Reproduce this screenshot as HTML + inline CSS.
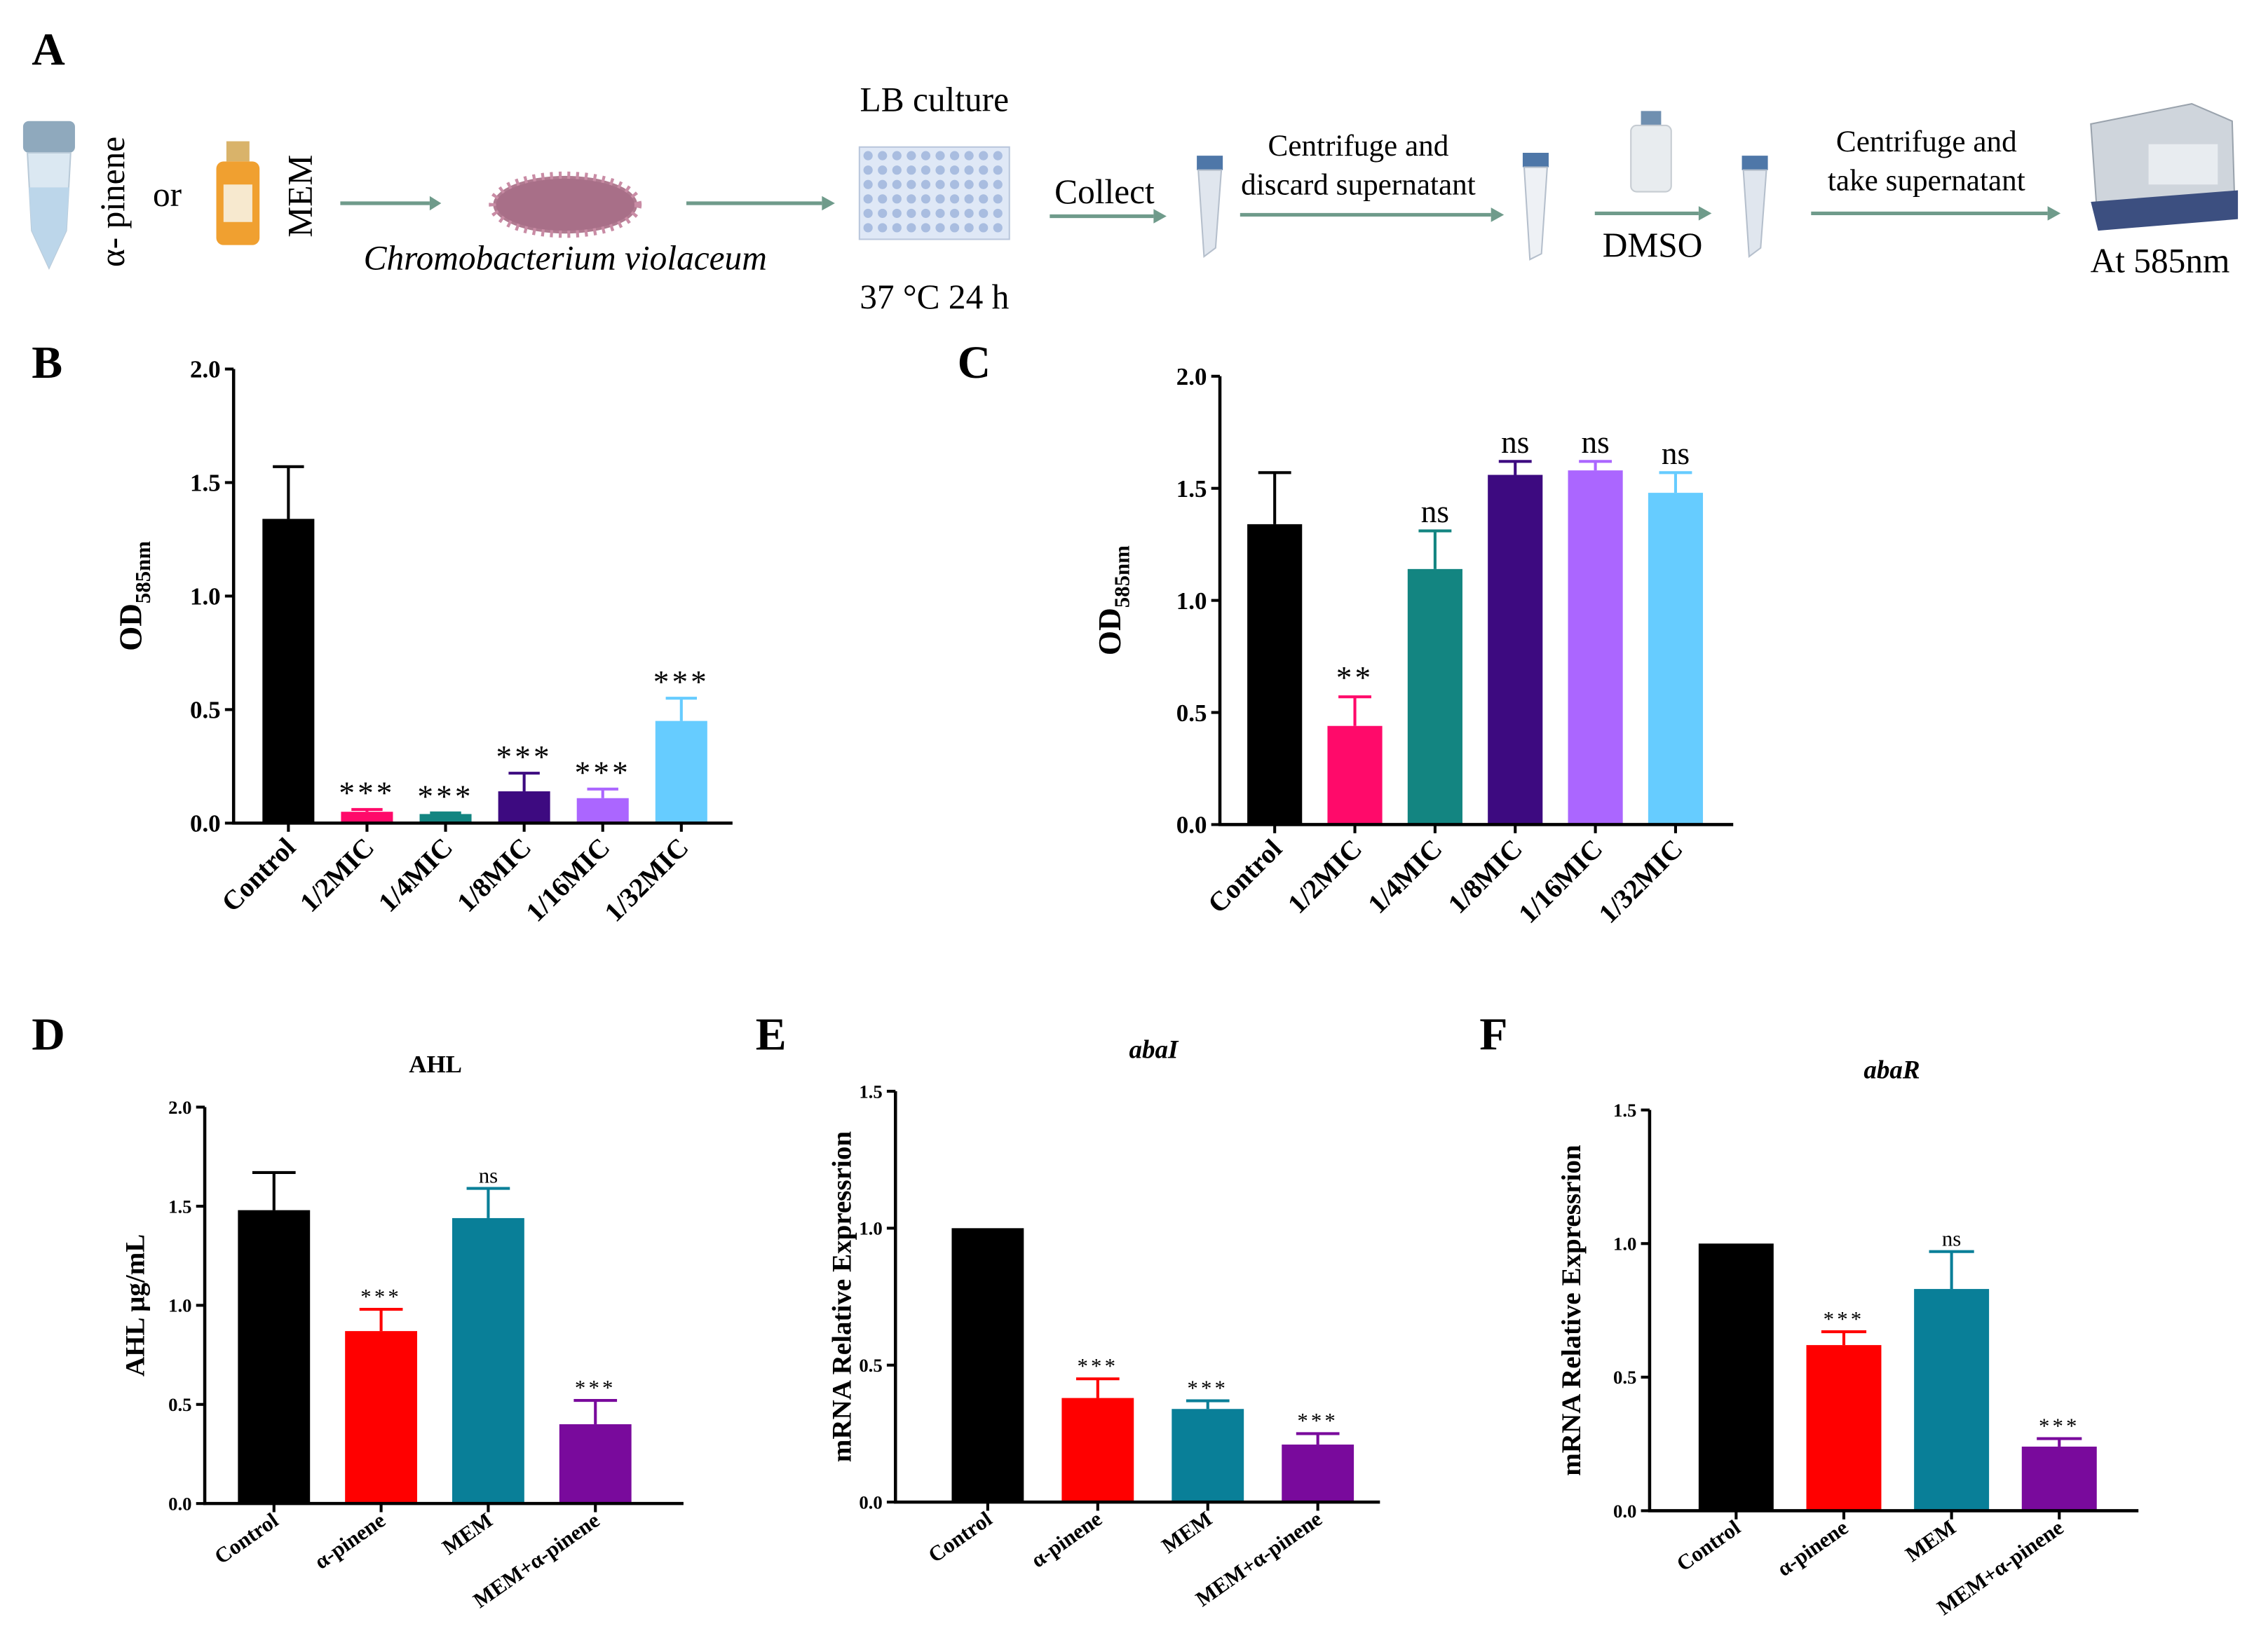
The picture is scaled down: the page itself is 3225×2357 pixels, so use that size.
<!DOCTYPE html>
<html><head><meta charset="utf-8">
<style>
html,body{margin:0;padding:0;background:#fff;}
svg{display:block;}
text{font-family:"Liberation Serif",serif;fill:#000;}
</style></head>
<body>
<svg id="fig" width="3225" height="2357" viewBox="0 0 1568 1146" preserveAspectRatio="none" xmlns="http://www.w3.org/2000/svg">
<rect width="1568" height="1146" fill="#fff"/>
<g>
<text x="22" y="45" font-size="32" font-weight="bold">A</text>
<g>
<rect x="16" y="84" width="36" height="22" rx="4" fill="#8fa9bd"/>
<path d="M19 106 L49 106 L46 160 L34 186 L22 160 Z" fill="#dbe8f2" stroke="#b9cad8"/>
<path d="M20 130 L48 130 L46 160 L34 186 L22 160 Z" fill="#bcd6ea"/>
</g>
<text transform="translate(86,140) rotate(-90)" font-size="24" text-anchor="middle">α- pinene</text>
<text x="106" y="143" font-size="24">or</text>
<g>
<rect x="157" y="98" width="16" height="14" fill="#d9b36a"/>
<rect x="150" y="112" width="30" height="58" rx="5" fill="#f0a030"/>
<rect x="155" y="128" width="20" height="26" fill="#f7e9cf"/>
</g>
<text transform="translate(216,136) rotate(-90)" font-size="24" text-anchor="middle">MEM</text>
<line x1="236" y1="141" x2="298" y2="141" stroke="#6f9b8b" stroke-width="2.5"/>
<path d="M298 136 L306 141 L298 146 Z" fill="#6f9b8b"/>
<g>
<ellipse cx="392" cy="142" rx="50" ry="20" fill="#b07a90" stroke="#c98ca5" stroke-width="6" stroke-dasharray="2 4"/>
<ellipse cx="392" cy="142" rx="48" ry="18" fill="#a86f88"/>
</g>
<text x="392" y="187" font-size="24" font-style="italic" text-anchor="middle">Chromobacterium violaceum</text>
<line x1="476" y1="141" x2="570" y2="141" stroke="#6f9b8b" stroke-width="2.5"/>
<path d="M570 136 L579 141 L570 146 Z" fill="#6f9b8b"/>
<text x="648" y="77" font-size="24" text-anchor="middle">LB culture</text>
<rect x="596" y="102" width="104" height="64" fill="#dfe8f6" stroke="#b9c6dc"/>
<g id="wells"></g>
<text x="648" y="214" font-size="24" text-anchor="middle">37 °C 24 h</text>
<text x="766" y="141" font-size="24" text-anchor="middle">Collect</text>
<line x1="728" y1="150" x2="800" y2="150" stroke="#6f9b8b" stroke-width="2.5"/>
<path d="M800 145 L809 150 L800 155 Z" fill="#6f9b8b"/>
<g><rect x="830" y="108" width="18" height="10" fill="#4e77a8"/><path d="M831 118 L847 118 L843 172 L835 178 Z" fill="#e0e6ee" stroke="#b5bfcc"/></g>
<text x="942" y="108" font-size="21" text-anchor="middle">Centrifuge and</text>
<text x="942" y="135" font-size="21" text-anchor="middle">discard supernatant</text>
<line x1="860" y1="149" x2="1034" y2="149" stroke="#6f9b8b" stroke-width="2.5"/>
<path d="M1034 144 L1043 149 L1034 154 Z" fill="#6f9b8b"/>
<g><rect x="1056" y="106" width="18" height="10" fill="#4e77a8"/><path d="M1057 116 L1073 116 L1069 176 L1061 180 Z" fill="#eef1f5" stroke="#b5bfcc"/></g>
<g><rect x="1138" y="77" width="14" height="10" fill="#6f8fb0"/><rect x="1131" y="87" width="28" height="46" rx="4" fill="#e8ecef" stroke="#c6ccd2"/></g>
<line x1="1106" y1="148" x2="1178" y2="148" stroke="#6f9b8b" stroke-width="2.5"/>
<path d="M1178 143 L1187 148 L1178 153 Z" fill="#6f9b8b"/>
<text x="1146" y="178" font-size="24" text-anchor="middle">DMSO</text>
<g><rect x="1208" y="108" width="18" height="10" fill="#4e77a8"/><path d="M1209 118 L1225 118 L1221 172 L1213 178 Z" fill="#e0e6ee" stroke="#b5bfcc"/></g>
<text x="1336" y="105" font-size="21" text-anchor="middle">Centrifuge and</text>
<text x="1336" y="132" font-size="21" text-anchor="middle">take supernatant</text>
<line x1="1256" y1="148" x2="1420" y2="148" stroke="#6f9b8b" stroke-width="2.5"/>
<path d="M1420 143 L1429 148 L1420 153 Z" fill="#6f9b8b"/>
<g>
<path d="M1450 86 L1520 72 L1548 84 L1550 150 L1455 158 Z" fill="#cfd5dc" stroke="#9aa3ad"/>
<path d="M1450 140 L1552 132 L1552 152 L1455 160 Z" fill="#3c4f80"/>
<rect x="1490" y="100" width="48" height="28" fill="#e8ecf0"/>
</g>
<text x="1498" y="189" font-size="24" text-anchor="middle">At 585nm</text>
</g>
<g id="charts"></g>
</svg>
<script>
const NS="http://www.w3.org/2000/svg";
const catBC=["Control","1/2MIC","1/4MIC","1/8MIC","1/16MIC","1/32MIC"];
const valB=[1.34,0.05,0.04,0.14,0.11,0.45];
const errB=[0.23,0.01,0.005,0.08,0.04,0.10];
const sigB=["","***","***","***","***","***"];
const valC=[1.34,0.44,1.14,1.56,1.58,1.48];
const errC=[0.23,0.13,0.17,0.06,0.04,0.09];
const sigC=["","**","ns","ns","ns","ns"];
const ticksBC=["0.0","0.5","1.0","1.5","2.0"];
const catDEF=["Control","α-pinene","MEM","MEM+α-pinene"];
const valD=[1.48,0.87,1.44,0.40];
const errD=[0.19,0.11,0.15,0.12];
const sigD=["","***","ns","***"];
const ticksD=["0.0","0.5","1.0","1.5","2.0"];
const valE=[1.0,0.38,0.34,0.21];
const errE=[0,0.07,0.03,0.04];
const sigE=["","***","***","***"];
const valF=[1.0,0.62,0.83,0.24];
const errF=[0,0.05,0.14,0.03];
const sigF=["","***","ns","***"];
const ticksEF=["0.0","0.5","1.0","1.5"];

const colBC=["#000000","#ff0a6a","#138581","#3d0a80","#ab66ff","#66ccff"];
const colDEF=["#000000","#ff0000","#097f98","#790a9c"];

function el(tag,attrs,parent){const e=document.createElementNS(NS,tag);for(const k in attrs)e.setAttribute(k,attrs[k]);parent.appendChild(e);return e;}

const wg=document.getElementById('wells');
for(let r=0;r<6;r++)for(let c=0;c<10;c++){el('circle',{cx:602+c*10,cy:108+r*10,r:3.2,fill:'#a9bde0'},wg);}

function chart(o){
  const g=el('g',{},document.getElementById('charts'));
  
  
  const ymax=parseFloat(o.ticks[o.ticks.length-1]);
  const Y=v=>o.y0-(v/ymax)*(o.y0-o.yTop);
  const X=i=>o.x0+o.first+i*o.step;
  const pl=el('text',{x:o.plx,y:o.ply,'font-size':32,'font-weight':'bold'},g);pl.textContent=o.pl;
  
  
  if(o.title){const t=el('text',{x:o.tx,y:o.ty,'font-size':o.tfs,'font-weight':'bold','font-style':o.titalic?'italic':'normal','text-anchor':'middle'},g);t.textContent=o.title;
    
    }
  o.vals.forEach((v,i)=>{
    const cx=X(i);
    const b=el('rect',{x:cx-o.bw/2,y:Y(v),width:o.bw,height:o.y0-Y(v),fill:o.cols[i]},g);
    
    
    const e=o.errs[i];
    if(e>0){
      el('line',{x1:cx,x2:cx,y1:Y(v),y2:Y(v+e),stroke:o.cols[i],'stroke-width':2},g);
      const cap=el('line',{x1:cx-o.bw*0.3,x2:cx+o.bw*0.3,y1:Y(v+e),y2:Y(v+e),stroke:o.cols[i],'stroke-width':2},g);
      
      
    }
    if(o.sig[i]){const s=el('text',{x:cx,y:Y(v+e)-o.sigGap,'font-size':o.sigfs,'text-anchor':'middle','letter-spacing':o.sig[i]=='ns'?0:2},g);s.textContent=o.sig[i];
      
      }
    el('line',{x1:cx,x2:cx,y1:o.y0,y2:o.y0+6,stroke:'#000','stroke-width':2},g);
    const lx=cx+o.lxo, ly=o.y0+o.lyo;
    const l=el('text',{x:lx,y:ly,'font-size':o.xfs,'font-weight':'bold','text-anchor':'end',transform:`rotate(${o.rot} ${lx} ${ly})`},g);l.textContent=o.cats[i];
    
    
  });
  const ya=el('line',{x1:o.x0,x2:o.x0,y1:o.yTop,y2:o.y0+1,stroke:'#000','stroke-width':2.2},g);
  
  const xa=el('line',{x1:o.x0-1,x2:o.xEnd,y1:o.y0,y2:o.y0,stroke:'#000','stroke-width':2.2},g);
  
  o.ticks.forEach(t=>{
    const y=Y(parseFloat(t));
    el('line',{x1:o.x0-6,x2:o.x0,y1:y,y2:y,stroke:'#000','stroke-width':2},g);
    const tl=el('text',{x:o.x0-9,y:y+o.yfs*0.35,'font-size':o.yfs,'font-weight':'bold','text-anchor':'end'},g);tl.textContent=t;
    
    
  });
  const yt=el('text',{x:0,y:0,'font-size':o.ytfs,'font-weight':'bold','text-anchor':'middle',transform:`translate(${o.ytx},${(o.y0+o.yTop)/2}) rotate(-90)`},g);
  yt.innerHTML=o.ytitle;
  
  
}
const od='OD<tspan font-size="15" dy="6">585nm</tspan>';
chart({name:'chart-b',pl:'B',plx:22,ply:262,x0:162,xEnd:508,y0:571,yTop:256,first:38,step:54.5,bw:36,vals:valB,errs:errB,sig:sigB,cats:catBC,cols:colBC,ticks:ticksBC,sigfs:22,sigGap:4,xfs:19,lxo:6,lyo:18,rot:-45,yfs:17,ytfs:22,ytx:98,ytitle:od});
chart({name:'chart-c',pl:'C',plx:664,ply:262,x0:846,xEnd:1202,y0:572,yTop:261,first:38,step:55.6,bw:38,vals:valC,errs:errC,sig:sigC,cats:catBC,cols:colBC,ticks:ticksBC,sigfs:22,sigGap:6,xfs:19,lxo:6,lyo:18,rot:-45,yfs:17,ytfs:22,ytx:777,ytitle:od});
chart({name:'chart-d',pl:'D',plx:22,ply:728,title:'AHL',tx:302,ty:744,tfs:17,titalic:false,x0:142,xEnd:474,y0:1043,yTop:768,first:48,step:74.3,bw:50,vals:valD,errs:errD,sig:sigD,cats:catDEF,cols:colDEF,ticks:ticksD,sigfs:15,sigGap:4,xfs:15,lxo:4,lyo:14,rot:-35,yfs:13,ytfs:19,ytx:100,ytitle:'AHL μg/mL'});
chart({name:'chart-e',pl:'E',plx:524,ply:728,title:'abaI',tx:800,ty:734,tfs:18,titalic:true,x0:621,xEnd:957,y0:1042,yTop:757,first:64,step:76.3,bw:50,vals:valE,errs:errE,sig:sigE,cats:catDEF,cols:colDEF,ticks:ticksEF,sigfs:15,sigGap:4,xfs:15,lxo:4,lyo:14,rot:-35,yfs:13,ytfs:19,ytx:590,ytitle:'mRNA Relative Expressrion'});
chart({name:'chart-f',pl:'F',plx:1026,ply:728,title:'abaR',tx:1312,ty:748,tfs:18,titalic:true,x0:1144,xEnd:1483,y0:1048,yTop:770,first:60,step:74.7,bw:52,vals:valF,errs:errF,sig:sigF,cats:catDEF,cols:colDEF,ticks:ticksEF,sigfs:15,sigGap:4,xfs:15,lxo:4,lyo:14,rot:-35,yfs:13,ytfs:19,ytx:1096,ytitle:'mRNA Relative Expressrion'});
</script>
</body></html>
